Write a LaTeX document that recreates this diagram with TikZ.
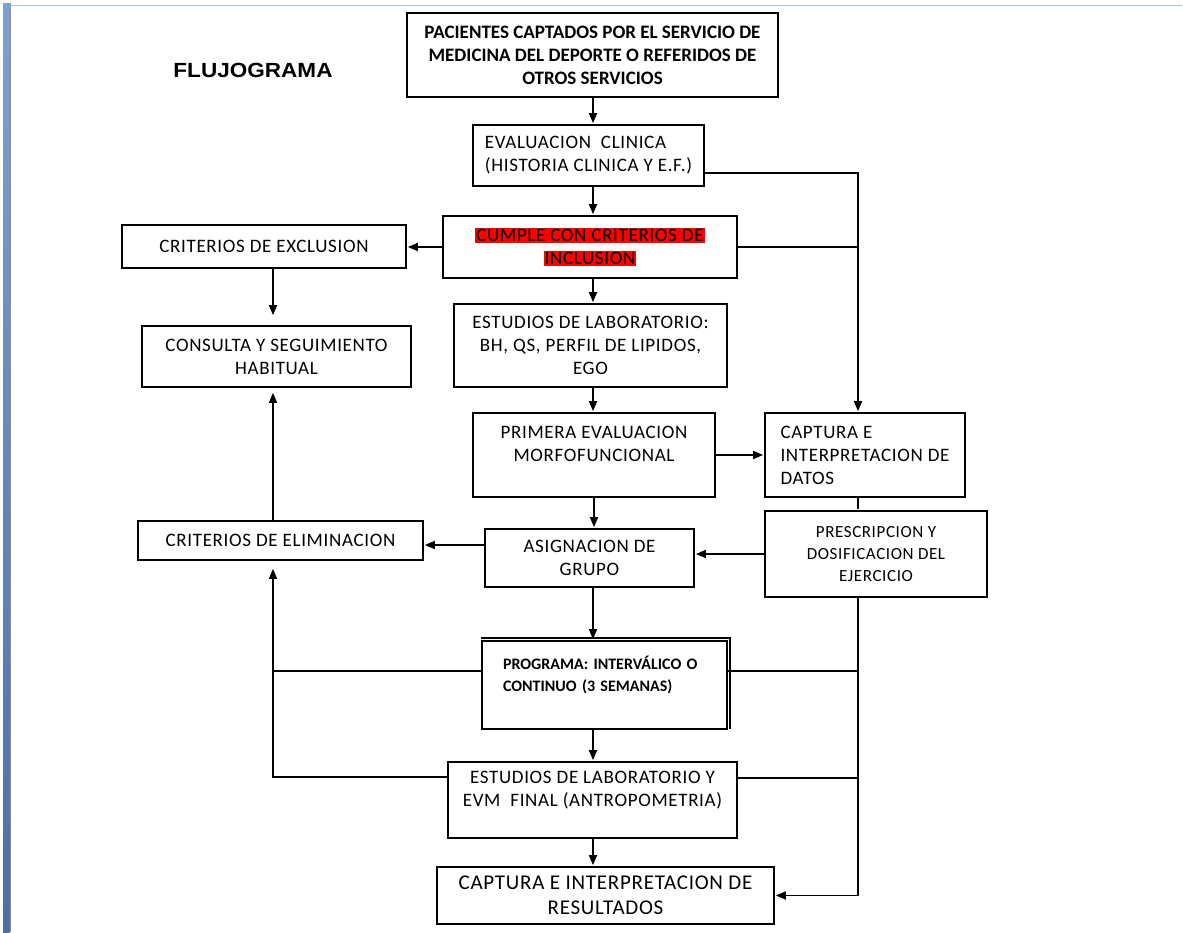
\documentclass[tikz,border=0pt]{standalone}
\usepackage{fontspec}
\setmainfont{Carlito}
\newfontfamily\boxfont{Carlito}[LetterSpace=3.5]
\newfontfamily\titlefont{Liberation Sans}
\usetikzlibrary{arrows.meta}
\definecolor{barblue}{HTML}{7F9FD4}
\definecolor{barblue2}{HTML}{4D6DAA}
\definecolor{rulegray}{HTML}{8C8C8C}
\definecolor{toprule}{HTML}{A9C2E6}
\definecolor{marker}{HTML}{FF0000}
\newcommand{\redmark}[1]{{\setlength{\fboxsep}{1pt}\colorbox{marker}{#1}}}

\begin{document}
\begin{tikzpicture}[x=1pt,y=-1pt,>={Triangle[length=10pt,width=8pt]},shorten >=1pt,
  line width=1.7pt,every edge/.append style={line width=1.7pt},
  box/.style={draw,rectangle,align=center,inner sep=0pt,font=\boxfont\fontsize{19}{23}\selectfont}]

  \useasboundingbox (0,0) rectangle (1183,932);
  \fill[white] (0,0) rectangle (1183,932);
  \shade[top color=barblue,bottom color=barblue2] (3,3) rectangle (9.5,932);
  \fill[rulegray] (9.5,3) rectangle (11,932);
  \draw[toprule,line width=1.2pt] (9.5,5.5) -- (1183,5.5);

  \node (title) at (253,70) {\titlefont\bfseries\fontsize{20.5}{24}\selectfont\scalebox{1.1}[1]{FLUJOGRAMA}};

  \coordinate (mid) at (593,0);
  \coordinate (lcol) at (273,0);
  \coordinate (rcol) at (858,0);

  \node[box,minimum width=371pt,minimum height=84pt,font=\bfseries\fontsize{19}{23}\selectfont] (pac) at (592.5,55)
    {PACIENTES CAPTADOS POR EL SERVICIO DE\\MEDICINA DEL DEPORTE O REFERIDOS DE\\OTROS SERVICIOS};
  \node[box,minimum width=231pt,minimum height=61pt,align=left] (eval) at (588.5,155.5)
    {EVALUACION~~CLINICA\\(HISTORIA CLINICA Y E.F.)};
  \node[box,minimum width=294pt,minimum height=62pt] (cumple) at (590,247)
    {\redmark{CUMPLE CON CRITERIOS DE}\\\redmark{INCLUSION}};
  \node[box,minimum width=284pt,minimum height=43pt] (excl) at (264,246.5) {CRITERIOS DE EXCLUSION};
  \node[box,minimum width=269pt,minimum height=61pt] (consulta) at (276.5,356.5) {CONSULTA Y SEGUIMIENTO\\HABITUAL};
  \node[box,minimum width=273pt,minimum height=83pt] (lab) at (590.5,345.5)
    {ESTUDIOS DE LABORATORIO:\\BH, QS, PERFIL DE LIPIDOS,\\EGO};
  \node[box,minimum width=242pt,minimum height=84pt] (primera) at (594,455) {PRIMERA EVALUACION\\MORFOFUNCIONAL\\\mbox{}};
  \node[box,minimum width=200pt,minimum height=84pt,align=left] (capdat) at (865,455) {CAPTURA E\\INTERPRETACION DE\\DATOS};
  \node[box,minimum width=222pt,minimum height=86pt,font=\boxfont\fontsize{17}{22}\selectfont] (presc) at (876,554)
    {PRESCRIPCION Y\\DOSIFICACION DEL\\EJERCICIO};
  \node[box,minimum width=209pt,minimum height=58pt] (asig) at (589.5,558) {ASIGNACION DE\\GRUPO};
  \node[box,minimum width=285pt,minimum height=39pt] (elim) at (280.5,540.5) {CRITERIOS DE ELIMINACION};
  \node[box,text width=203pt,inner xsep=21pt,minimum height=88pt,align=left,font=\bfseries\fontsize{16}{22}\selectfont] (prog) at (604.5,685)
    {PROGRAMA: INTERVÁLICO O\\CONTINUO (3 SEMANAS)\\\mbox{}};
  \node[box,minimum width=289pt,minimum height=76pt] (evmf) at (592.5,800)
    {ESTUDIOS DE LABORATORIO Y\\EVM~~FINAL (ANTROPOMETRIA)\\\mbox{}};
  \node[box,minimum width=337pt,minimum height=57pt,font=\boxfont\fontsize{21}{25}\selectfont] (capres) at (605.5,895.5)
    {CAPTURA E INTERPRETACION DE\\RESULTADOS};

  \path[->]
    (pac.south -| mid) edge (eval.north -| mid)
    (eval.south -| mid) edge (cumple.north -| mid)
    (cumple.west) edge (cumple.west -| excl.east)
    (cumple.south -| mid) edge (lab.north -| mid)
    (lab.south -| mid) edge (primera.north -| mid)
    (primera.east) edge (primera.east -| capdat.west)
    (presc.west) edge (presc.west -| asig.east)
    (primera.south) edge (primera.south |- asig.north)
    ([yshift=13pt]asig.west) edge ([yshift=13pt]asig.west -| elim.east)
    (asig.south -| mid) edge (prog.north -| mid)
    (prog.south -| mid) edge (evmf.north -| mid)
    (evmf.south -| mid) edge (capres.north -| mid);
  \path[->,shorten >=10pt] (excl.south -| lcol) edge (consulta.north -| lcol);
  \path[->,shorten >=5pt] (elim.north -| lcol) edge (consulta.south -| lcol);

  \draw[->] ([yshift=-17.5pt]eval.east) -| (rcol |- capdat.north);
  \draw (cumple.east) -- (cumple.east -| rcol);
  \draw (capdat.south -| rcol) -- (presc.north -| rcol);
  \draw[->] (presc.south -| rcol) |- (capres.east);
  \draw ([yshift=14pt]prog.east) -- ([yshift=14pt]prog.east -| rcol);
  \draw ([yshift=22pt]evmf.east) -- ([yshift=22pt]evmf.east -| rcol);
  \draw ([yshift=14pt]prog.west) -- ([yshift=14pt]prog.west -| lcol);
  \draw[->,shorten >=8pt] ([yshift=23pt]evmf.west) -| (elim.south -| lcol);
  \draw ([yshift=2pt]prog.north west) -| ([xshift=2pt]prog.south east);
\end{tikzpicture}
\end{document}
